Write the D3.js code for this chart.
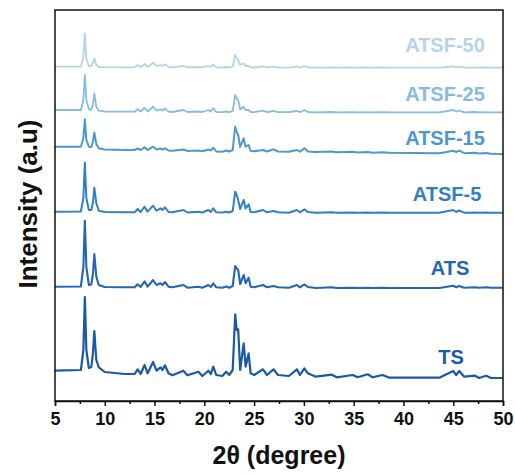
<!DOCTYPE html>
<html>
<head>
<meta charset="utf-8">
<script src="https://cdn.jsdelivr.net/npm/d3@7"></script>
<style>
  html, body { margin: 0; padding: 0; background: #fff; }
  svg { display: block; font-family: "Liberation Sans", Arial, sans-serif; }
</style>
</head>
<body>
<div id="chart"></div>
<script>
// shared 2θ positions (degree)
const twoTheta = [
  5.0, 7.6, 7.85, 8.0, 8.15, 8.4, 8.65, 8.82, 8.95, 9.15,
  9.4, 10.0, 12.0, 13.0, 13.3, 13.6, 14.0, 14.3, 14.85, 15.2,
  15.6, 15.8, 16.05, 16.4, 16.8, 17.9, 18.3, 19.4, 19.8, 20.4,
  20.65, 20.9, 21.2, 21.8, 22.2, 22.5, 22.85, 23.1, 23.25, 23.4,
  23.6, 23.95, 24.15, 24.45, 24.65, 25.0, 25.9, 26.3, 26.95, 27.4,
  28.5, 29.3, 29.6, 30.05, 30.4, 31.2, 32.8, 33.3, 34.9, 35.4,
  36.4, 36.9, 37.9, 38.6, 43.6, 45.0, 45.3, 45.6, 46.1, 47.2,
  47.6, 48.3, 48.8, 50.0
];

const sampleNames = ["TS", "ATS", "ATSF-5", "ATSF-15", "ATSF-25", "ATSF-50"];
const offsets = [0, 85, 160, 220, 260, 305];

const intensityTS = [
  9.3, 10, 30, 83, 30, 12, 13, 28, 49, 20,
  12.7, 8, 6, 6, 10.7, 6, 15, 6.7, 18, 9.3,
  12.7, 10, 14.7, 6.7, 4.7, 9.3, 4.7, 8.3, 4, 9.3,
  6, 13.3, 5, 4, 8.3, 5, 10, 65.7, 50, 50.7,
  10, 36.7, 13.3, 26.7, 6.7, 5, 10.7, 5, 10.7, 5,
  4, 10.7, 5, 11.7, 6.7, 3.3, 5.3, 2.7, 5, 2.7,
  5.7, 2.7, 5, 2.3, 2.3, 9, 5, 9, 3.3, 4.3,
  2, 4.3, 2, 2
];
const intensityATS = [
  8.3, 8.5, 28, 74.3, 28, 10, 10.5, 22, 41, 18.3,
  10, 8, 7.7, 7.7, 10.7, 8, 13.7, 8.3, 15, 10,
  11.7, 10, 13, 8.3, 7.7, 10, 7.3, 8.3, 7.3, 10,
  8, 11.7, 7.7, 7.3, 8.5, 7.3, 9, 29, 26.7, 25,
  11, 20, 11.7, 17.3, 8.3, 7.7, 10, 7.7, 9, 7.7,
  7.3, 10, 7.7, 10.7, 8, 7, 7.7, 7, 7.3, 7,
  7.3, 7, 7.3, 7, 7, 9.3, 7.7, 9, 7.3, 7.7,
  7.3, 7.7, 7.3, 7.3
];
const intensityATSF5 = [
  8.3, 8.5, 22, 57.3, 22, 10, 10, 18, 32.3, 16.7,
  9.3, 8, 7.7, 7.7, 11, 8, 13.3, 8.3, 14.3, 9.3,
  11.7, 10, 12.7, 8, 7.7, 10, 7.5, 8.3, 7.5, 10,
  8, 11.7, 7.7, 7.5, 8.3, 7.5, 9, 28.3, 25, 20,
  11, 20, 11.5, 15.7, 8, 7.7, 10, 7.7, 9, 7.7,
  7.3, 10, 7.7, 10.7, 8, 7.3, 7.7, 7.3, 7.5, 7.3,
  7.5, 7.3, 7.5, 7.3, 7.3, 10, 8, 9.5, 7.3, 7.5,
  7.3, 7.5, 7.3, 7.3
];
const intensityATSF15 = [
  13.3, 13.3, 22, 40.7, 20, 13.3, 13, 19, 27.3, 16,
  11.7, 10.5, 10, 10, 11.5, 10, 12.7, 10, 13.3, 10.5,
  11.5, 10.5, 11.7, 9.5, 9.3, 10.5, 9, 9.5, 8.7, 10.5,
  9.5, 12.3, 8.5, 8.3, 9.5, 8.5, 10, 33.3, 28.3, 25,
  13, 21.7, 13.3, 15, 9, 8.7, 10, 8.5, 10.7, 8.5,
  8.3, 10, 8.3, 11.7, 8.5, 8, 8.5, 7.7, 8.2, 7.5,
  8, 7.3, 7.7, 7.2, 6.8, 9.3, 8, 9.3, 6.8, 7.3,
  6.5, 7, 6.3, 6
];
const intensityATSF25 = [
  10, 10, 20, 45, 20, 10.7, 10.5, 16, 26.7, 13,
  9.3, 8.5, 8.3, 8.3, 10.7, 8.5, 12.3, 8.5, 13.3, 9.5,
  10.7, 9.5, 11.7, 8.3, 8, 10, 8, 8.5, 8, 10,
  8.5, 11.7, 8, 7.8, 8.5, 7.8, 9, 25, 21.7, 20,
  10.5, 13.3, 10, 10, 8, 7.8, 9.3, 7.8, 9, 7.8,
  7.8, 9, 7.8, 10, 8, 7.7, 8, 7.7, 7.9, 7.7,
  7.9, 7.7, 7.9, 7.7, 7.7, 10, 8.5, 9.5, 7.7, 8,
  7.7, 7.9, 7.7, 7.7
];
const intensityATSF50 = [
  8.3, 8.5, 18, 41.7, 16, 9, 9, 12, 16.7, 10,
  8, 7.8, 7.7, 7.7, 10, 8, 11, 8, 12.3, 9,
  10, 9, 10.7, 8, 7.7, 9, 7.7, 8, 7.7, 9,
  8, 10.5, 7.7, 7.5, 8, 7.5, 8.5, 20, 16.7, 15,
  10, 11.7, 9, 9, 7.7, 7.5, 8.5, 7.5, 8.3, 7.5,
  7.4, 8.5, 7.4, 9, 7.5, 7.3, 7.6, 7.3, 7.5, 7.3,
  7.5, 7.3, 7.5, 7.3, 7.3, 8.5, 7.5, 8.3, 7.3, 7.5,
  7.3, 7.5, 7.3, 7.3
];
const intensities = [intensityTS, intensityATS, intensityATSF5,
  intensityATSF15, intensityATSF25, intensityATSF50];

const xTicks = [5, 10, 15, 20, 25, 30, 35, 40, 45, 50];
const xMinorTicks = [7.5, 12.5, 17.5, 22.5, 27.5, 32.5, 37.5, 42.5, 47.5];

// styling / layout
const colors = ["#1c58a5", "#2366b3", "#3180c1", "#4f97cf", "#86bce0", "#b6d3ea"];
const widths = [2.2, 2.1, 2, 2, 1.8, 1.8];
const labelPos = [
  { x: 451, y: 364 }, { x: 450, y: 275 }, { x: 447, y: 201 },
  { x: 445, y: 145 }, { x: 445, y: 101 }, { x: 445, y: 52 }
];

const WIDTH = 515;
const HEIGHT = 475;
const margin = { left: 55, right: 12, top: 10, bottom: 74 };

const svg = d3.select("#chart").append("svg")
  .attr("width", WIDTH)
  .attr("height", HEIGHT);

const x = d3.scaleLinear().domain([5, 50]).range([margin.left, WIDTH - margin.right]);
const y = d3.scaleLinear().domain([-21, 370]).range([HEIGHT - margin.bottom, margin.top]);

const line = d3.line()
  .x(d => x(d[0]))
  .y(d => y(d[1]));

sampleNames.forEach((name, i) => {
  const pts = twoTheta.map((t, k) => [t, intensities[i][k] + offsets[i]]);
  svg.append("path")
    .datum(pts)
    .attr("fill", "none")
    .attr("stroke", colors[i])
    .attr("stroke-width", widths[i])
    .attr("stroke-linejoin", "round")
    .attr("d", line);

  svg.append("text")
    .attr("x", labelPos[i].x)
    .attr("y", labelPos[i].y)
    .attr("text-anchor", "middle")
    .attr("font-size", 20)
    .attr("font-weight", "bold")
    .attr("fill", colors[i])
    .text(name);
});

// frame
svg.append("rect")
  .attr("x", margin.left)
  .attr("y", margin.top)
  .attr("width", WIDTH - margin.right - margin.left)
  .attr("height", HEIGHT - margin.bottom - margin.top)
  .attr("fill", "none")
  .attr("stroke", "#111")
  .attr("stroke-width", 1.5);

const xAxis = svg.append("g")
  .attr("transform", `translate(0,${HEIGHT - margin.bottom})`)
  .call(d3.axisBottom(x).tickValues(xTicks).tickSize(5).tickPadding(6).tickFormat(d3.format("d")));
xAxis.select(".domain").attr("stroke", "#111").attr("stroke-width", 1.5);
xAxis.selectAll(".tick line").attr("stroke", "#111").attr("stroke-width", 1.5);
xAxis.selectAll("text")
  .attr("font-size", 18)
  .attr("font-weight", "bold")
  .attr("fill", "#111")
  .attr("font-family", "Liberation Sans, Arial, sans-serif");

const xMinor = svg.append("g")
  .attr("transform", `translate(0,${HEIGHT - margin.bottom})`)
  .call(d3.axisBottom(x).tickValues(xMinorTicks).tickSize(3).tickFormat(""));
xMinor.select(".domain").remove();
xMinor.selectAll(".tick line").attr("stroke", "#111").attr("stroke-width", 1.5);

svg.append("text")
  .attr("x", (margin.left + WIDTH - margin.right) / 2)
  .attr("y", 464)
  .attr("text-anchor", "middle")
  .attr("font-size", 25)
  .attr("font-weight", "bold")
  .attr("fill", "#111")
  .text("2θ (degree)");

svg.append("text")
  .attr("transform", "translate(37,204) rotate(-90)")
  .attr("text-anchor", "middle")
  .attr("font-size", 26)
  .attr("font-weight", "bold")
  .attr("fill", "#111")
  .text("Intensity (a.u)");
</script>
</body>
</html>
